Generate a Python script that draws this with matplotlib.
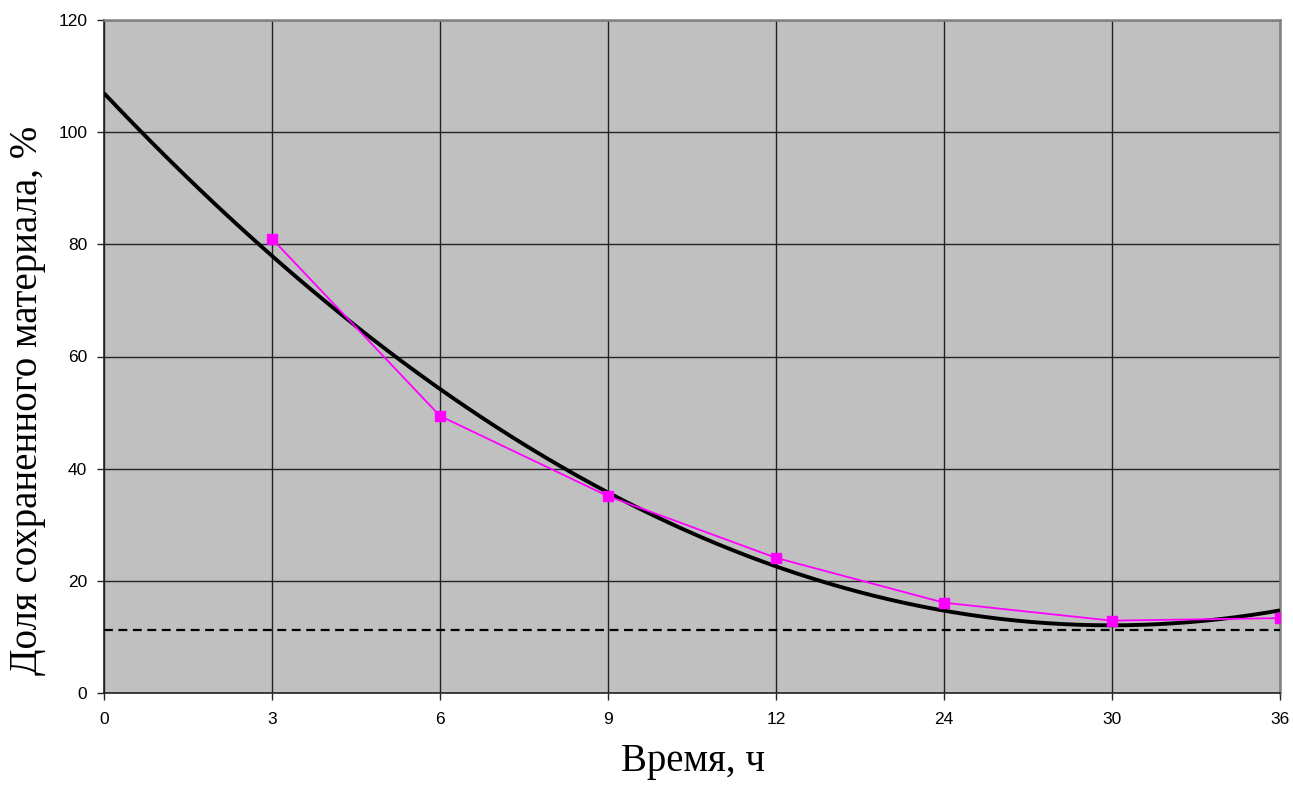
import numpy as np
import matplotlib
matplotlib.use("Agg")
import matplotlib.pyplot as plt

# Data
time_labels = ["0", "3", "6", "9", "12", "24", "30", "36"]
obs_positions = [1, 2, 3, 4, 5, 6, 7]
obs_values = [81.0, 49.4, 35.1, 24.1, 16.1, 12.9, 13.35]
threshold = 11.3
x_label = "Время, ч"
y_label = "Доля сохраненного материала, %"

fig = plt.figure(figsize=(12.93, 7.85), dpi=100)
ax = fig.add_axes([104/1293, 1 - 693/785, (1280-104)/1293, (693-20)/785])
ax.set_facecolor("#C0C0C0")

cat_pos = np.arange(len(time_labels))

# quadratic trendline of the observed series, extended back to 0
coef = np.polyfit(obs_positions, obs_values, 2)
xs = np.linspace(cat_pos[0], cat_pos[-1], 300)
ax.plot(xs, np.polyval(coef, xs), color="black", lw=2.8, zorder=3,
        solid_capstyle="butt")

ax.plot(obs_positions, obs_values, color="#FF00FF", lw=1.3, marker="s",
        markersize=6.5, markerfacecolor="#FF00FF", markeredgecolor="#FF00FF",
        zorder=4)

ax.plot([cat_pos[0], cat_pos[-1]], [threshold, threshold], color="black",
        lw=1.6, ls=(0, (4, 2.5)), zorder=3)

ax.set_xlim(cat_pos[0], cat_pos[-1])
ax.set_ylim(0, 120)
ax.set_xticks(cat_pos)
ax.set_xticklabels(time_labels)
ax.set_yticks(np.arange(0, 121, 20))

ax.grid(True, color="#222222", lw=1.0)
ax.set_axisbelow(True)

for s in ["left", "bottom"]:
    ax.spines[s].set_color("#222222")
    ax.spines[s].set_linewidth(1.2)
for s in ["top", "right"]:
    ax.spines[s].set_color("#808080")
    ax.spines[s].set_linewidth(1.8)

ax.tick_params(axis="both", direction="out", length=5, width=1.0,
               color="#222222", labelsize=12.5, pad=7)
for lab in ax.get_xticklabels() + ax.get_yticklabels():
    lab.set_fontfamily("Liberation Sans")
ax.tick_params(axis="x", pad=9)

fig.text(693/1293, 1 - 762/785, x_label, family="Liberation Serif",
         fontsize=28, ha="center", va="center")
fig.text(28/1293, 1 - 400/785, y_label, family="Liberation Serif",
         fontsize=28, ha="center", va="center", rotation=90)

fig.savefig("out.png", dpi=100)
